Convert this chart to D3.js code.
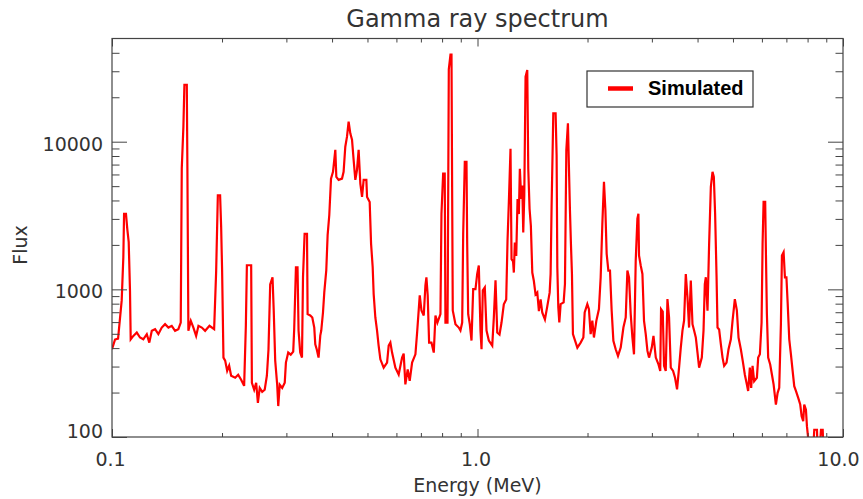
<!DOCTYPE html>
<html>
<head>
<meta charset="utf-8">
<script src="https://cdn.jsdelivr.net/npm/d3@7.9.0/dist/d3.min.js"></script>
<style>
  body { margin: 0; background: #fff; }
  svg { display: block; }
</style>
</head>
<body>
<svg id="chart" width="863" height="499"></svg>
<script>
// spectrum: energy (MeV) and flux
const energy = [
  0.1000, 0.1019, 0.1039, 0.1063, 0.1074, 0.1079, 0.1092, 0.1101, 0.1111, 0.1120,
  0.1125, 0.1144, 0.1169, 0.1193, 0.1218, 0.1245, 0.1265, 0.1285, 0.1312, 0.1339,
  0.1368, 0.1397, 0.1427, 0.1457, 0.1488, 0.1519, 0.1542, 0.1552, 0.1568, 0.1578,
  0.1602, 0.1608, 0.1618, 0.1643, 0.1670, 0.1699, 0.1724, 0.1761, 0.1798, 0.1848,
  0.1903, 0.1927, 0.1948, 0.1976, 0.1989, 0.2001, 0.2018, 0.2040, 0.2066, 0.2092,
  0.2118, 0.2173, 0.2214, 0.2256, 0.2299, 0.2324, 0.2339, 0.2403, 0.2414, 0.2449,
  0.2480, 0.2507, 0.2536, 0.2576, 0.2617, 0.2653, 0.2680, 0.2709, 0.2749, 0.2770,
  0.2796, 0.2831, 0.2850, 0.2877, 0.2922, 0.2969, 0.2991, 0.3035, 0.3083, 0.3132,
  0.3151, 0.3186, 0.3218, 0.3239, 0.3273, 0.3310, 0.3331, 0.3365, 0.3416, 0.3429,
  0.3487, 0.3532, 0.3576, 0.3599, 0.3633, 0.3674, 0.3714, 0.3737, 0.3778, 0.3809,
  0.3857, 0.3890, 0.3931, 0.3974, 0.4024, 0.4083, 0.4109, 0.4169, 0.4259, 0.4302,
  0.4348, 0.4395, 0.4440, 0.4487, 0.4536, 0.4582, 0.4632, 0.4681, 0.4729, 0.4780,
  0.4832, 0.4881, 0.4965, 0.4987, 0.5070, 0.5115, 0.5167, 0.5199, 0.5254, 0.5311,
  0.5364, 0.5423, 0.5537, 0.5657, 0.5715, 0.5776, 0.5838, 0.5961, 0.6086, 0.6218,
  0.6281, 0.6348, 0.6442, 0.6524, 0.6623, 0.6763, 0.6836, 0.6950, 0.7025, 0.7128,
  0.7203, 0.7248, 0.7307, 0.7372, 0.7482, 0.7592, 0.7673, 0.7769, 0.7918, 0.7969,
  0.8054, 0.8135, 0.8171, 0.8278, 0.8293, 0.8346, 0.8435, 0.8489, 0.8526, 0.8557,
  0.8704, 0.8886, 0.8981, 0.9080, 0.9138, 0.9231, 0.9330, 0.9371, 0.9430, 0.9526,
  0.9629, 0.9732, 0.9874, 0.9981, 1.0083, 1.0190, 1.0257, 1.0340, 1.0471, 1.0585,
  1.0740, 1.0973, 1.1084, 1.1202, 1.1324, 1.1488, 1.1634, 1.1803, 1.1983, 1.2082,
  1.2183, 1.2312, 1.2391, 1.2509, 1.2572, 1.2651, 1.2764, 1.2870, 1.2977, 1.3058,
  1.3173, 1.3258, 1.3341, 1.3427, 1.3536, 1.3682, 1.3769, 1.3883, 1.3996, 1.4122,
  1.4263, 1.4416, 1.4573, 1.4723, 1.4882, 1.5042, 1.5293, 1.5524, 1.5753, 1.5849,
  1.5948, 1.6121, 1.6357, 1.6460, 1.6534, 1.6638, 1.6744, 1.6884, 1.7205, 1.7348,
  1.7500, 1.7677, 1.7788, 1.7903, 1.8015, 1.8131, 1.8244, 1.8442, 1.8759, 1.9152,
  1.9482, 1.9644, 1.9975, 2.0178, 2.0396, 2.0613, 2.0823, 2.1142, 2.1490, 2.1727,
  2.1958, 2.2182, 2.2382, 2.2563, 2.2806, 2.3040, 2.3286, 2.3537, 2.3883, 2.4233,
  2.4650, 2.5073, 2.5440, 2.5711, 2.5973, 2.6254, 2.6534, 2.6802, 2.7095, 2.7384,
  2.7560, 2.7663, 2.7963, 2.8263, 2.8550, 2.8860, 2.9171, 2.9470, 2.9977, 3.0300,
  3.0746, 3.1273, 3.1623, 3.1783, 3.2124, 3.2390, 3.2735, 3.3090, 3.3427, 3.3790,
  3.4284, 3.4711, 3.5156, 3.5603, 3.5990, 3.6374, 3.6745, 3.7143, 3.7539, 3.7921,
  3.8334, 3.8743, 3.9138, 3.9563, 3.9985, 4.0393, 4.1088, 4.1534, 4.1871, 4.2141,
  4.2590, 4.3024, 4.3492, 4.3954, 4.4320, 4.4679, 4.5080, 4.5362, 4.5824, 4.6322,
  4.6816, 4.7293, 4.8017, 4.8618, 4.9338, 4.9863, 5.0592, 5.1236, 5.1782, 5.2539,
  5.3211, 5.3889, 5.4576, 5.5017, 5.5610, 5.6072, 5.6565, 5.7143, 5.8124, 5.8608,
  5.9231, 5.9874, 6.0256, 6.0634, 6.1252, 6.1518, 6.1914, 6.2417, 6.3213, 6.3900,
  6.4582, 6.5527, 6.6239, 6.6912, 6.7624, 6.8063, 6.8786, 6.9360, 7.0018, 7.0554,
  7.1273, 7.2033, 7.2809, 7.3552, 7.4337, 7.5421, 7.6383, 7.7057, 7.7837, 7.8339,
  7.9174, 7.9686, 8.0686, 8.3000, 8.3445, 8.4873, 8.5130, 8.6500, 8.7044, 8.8003,
  8.8300, 9.2700
];

const flux = [
  393, 457, 464, 842, 1651, 3252, 3252, 2571, 2088, 985,
  459, 484, 510, 472, 459, 497, 436, 524, 537, 497,
  551, 581, 551, 566, 524, 537, 596, 6580, 12650, 24300,
  24300, 6580, 524, 612, 551, 484, 566, 551, 524, 566,
  537, 1305, 4340, 4340, 2641, 1346, 345, 329, 281, 304,
  260, 252, 264, 244, 222, 569, 1456, 1456, 233, 209,
  233, 170, 215, 202, 209, 260, 391, 1081, 1207, 720,
  329, 226, 162, 226, 215, 233, 319, 373, 361, 379,
  535, 1412, 1412, 526, 373, 345, 1207, 2378, 2378, 679,
  665, 645, 551, 425, 391, 345, 486, 526, 697, 954,
  1346, 2330, 3187, 5627, 6250, 8820, 5780, 5515, 5627, 6250,
  9250, 10820, 13680, 11390, 10320, 7543, 5515, 6450, 8820, 5203,
  4225, 5515, 5515, 4225, 3908, 2033, 1412, 929, 645, 526,
  416, 336, 295, 319, 416, 436, 373, 295, 265, 345,
  367, 227, 287, 240, 319, 363, 510, 910, 720, 665,
  1065, 1207, 910, 436, 436, 373, 665, 596, 679, 3252,
  6085, 6085, 596, 596, 1151, 30900, 38900, 38900, 4114, 720,
  581, 551, 526, 596, 2378, 7310, 7310, 2033, 679, 581,
  450, 1005, 1005, 1271, 1450, 526, 393, 985, 1032, 526,
  450, 416, 645, 1151, 510, 494, 596, 791, 855, 2131,
  3890, 8960, 1600, 1550, 1299, 2078, 1685, 4095, 3236, 6550,
  4095, 5044, 2430, 4310, 27550, 30550, 6550, 3500, 2696, 1299,
  1139, 925, 954, 712, 855, 694, 625, 770, 950, 1271,
  3612, 15580, 15580, 8121, 1412, 754, 596, 794, 816, 1087,
  8780, 13320, 6761, 3446, 2033, 1271, 497, 459, 403, 436,
  472, 697, 794, 735, 497, 615, 472, 612, 735, 1207,
  2781, 5345, 3446, 1738, 1341, 1341, 716, 448, 393, 354,
  403, 551, 645, 1341, 1207, 679, 472, 363, 1567, 3008,
  3252, 1695, 1450, 1271, 612, 497, 383, 345, 403, 484,
  345, 310, 280, 735, 708, 303, 280, 859, 645, 295,
  280, 252, 210, 295, 403, 526, 615, 1271, 882, 551,
  1146, 581, 526, 472, 373, 295, 345, 526, 1087, 1207,
  716, 2033, 4943, 6250, 5780, 3252, 1240, 551, 535, 425,
  345, 303, 319, 393, 459, 612, 859, 720, 472, 393,
  324, 264, 227, 205, 295, 215, 303, 239, 252, 345,
  363, 596, 2033, 3908, 3908, 1833, 679, 345, 310, 265,
  227, 166, 199, 215, 581, 1695, 1786, 1207, 1207, 816,
  459, 363, 280, 221, 205, 184, 166, 138, 128, 166,
  153, 118, 88, 88, 112, 112, 88, 88, 112, 112,
  88, 85
];

const xMajorTicks = [0.1, 1, 10];
const xTickLabels = ['0.1', '1.0', '10.0'];
const xMinorTicks = [0.2, 0.3, 0.4, 0.5, 0.6, 0.7, 0.8, 0.9, 2, 3, 4, 5, 6, 7, 8, 9];
const yMajorTicks = [100, 1000, 10000];
const yTickLabels = ['100', '1000', '10000'];
const yMinorTicks = [200, 300, 400, 500, 600, 700, 800, 900,
  2000, 3000, 4000, 5000, 6000, 7000, 8000, 9000, 20000, 30000, 40000];

const seriesName = 'Simulated';

const plotLeft = 112, plotRight = 843, plotTop = 38.5, plotBottom = 437;
const axisColor = '#444';
const textColor = '#333';
const font = 'DejaVu Sans, Verdana, sans-serif';

const svg = d3.select('#chart');

const x = d3.scaleLog().domain([0.1, 10]).range([plotLeft, plotRight]);
const y = d3.scaleLog().domain([100, 50000]).range([plotBottom, plotTop]);

const points = energy.map((e, i) => ({ e, f: flux[i] }));

svg.append('clipPath')
  .attr('id', 'plot-clip')
  .append('rect')
  .attr('x', plotLeft)
  .attr('y', plotTop)
  .attr('width', plotRight - plotLeft)
  .attr('height', plotBottom - plotTop);

const line = d3.line()
  .x((d) => x(d.e))
  .y((d) => y(Math.max(d.f, 60)));

svg.append('path')
  .datum(points)
  .attr('clip-path', 'url(#plot-clip)')
  .attr('fill', 'none')
  .attr('stroke', '#ff0000')
  .attr('stroke-width', 2.2)
  .attr('stroke-linejoin', 'miter')
  .attr('d', line);

// axes, IDL style: ticks point inward on all four sides
function styleAxis(g) {
  g.select('.domain').remove();
  g.selectAll('line').attr('stroke', axisColor).attr('stroke-width', 1);
  g.selectAll('text')
    .attr('fill', textColor)
    .attr('font-family', font)
    .attr('font-size', 19);
}

svg.append('g')
  .attr('transform', `translate(0,${plotBottom})`)
  .call(d3.axisBottom(x).tickValues(xMajorTicks).tickSize(-8).tickPadding(16)
    .tickFormat((d, i) => xTickLabels[i]))
  .call(styleAxis)
  .call((g) => g.selectAll('text').attr('dx', (d) => (d === 10 ? -5 : -2)));

svg.append('g')
  .attr('transform', `translate(0,${plotBottom})`)
  .call(d3.axisBottom(x).tickValues(xMinorTicks).tickSize(-4).tickFormat(''))
  .call(styleAxis);

svg.append('g')
  .attr('transform', `translate(0,${plotTop})`)
  .call(d3.axisTop(x).tickValues(xMajorTicks).tickSize(-8).tickFormat(''))
  .call(styleAxis);

svg.append('g')
  .attr('transform', `translate(0,${plotTop})`)
  .call(d3.axisTop(x).tickValues(xMinorTicks).tickSize(-4).tickFormat(''))
  .call(styleAxis);

svg.append('g')
  .attr('transform', `translate(${plotLeft},0)`)
  .call(d3.axisLeft(y).tickValues(yMajorTicks).tickSize(-15).tickPadding(9)
    .tickFormat((d, i) => yTickLabels[i]))
  .call(styleAxis)
  .call((g) => g.selectAll('text')
    .attr('dy', (d) => (d === 100 ? '0' : '0.45em')));

svg.append('g')
  .attr('transform', `translate(${plotLeft},0)`)
  .call(d3.axisLeft(y).tickValues(yMinorTicks).tickSize(-7.5).tickFormat(''))
  .call(styleAxis);

svg.append('g')
  .attr('transform', `translate(${plotRight},0)`)
  .call(d3.axisRight(y).tickValues(yMajorTicks).tickSize(-15).tickFormat(''))
  .call(styleAxis);

svg.append('g')
  .attr('transform', `translate(${plotRight},0)`)
  .call(d3.axisRight(y).tickValues(yMinorTicks).tickSize(-7.5).tickFormat(''))
  .call(styleAxis);

svg.append('rect')
  .attr('x', plotLeft)
  .attr('y', plotTop)
  .attr('width', plotRight - plotLeft)
  .attr('height', plotBottom - plotTop)
  .attr('fill', 'none')
  .attr('stroke', axisColor)
  .attr('stroke-width', 1.2);

// titles
svg.append('text')
  .attr('x', (plotLeft + plotRight) / 2)
  .attr('y', 27)
  .attr('text-anchor', 'middle')
  .attr('font-family', font)
  .attr('font-size', 24)
  .attr('fill', textColor)
  .text('Gamma ray spectrum');

svg.append('text')
  .attr('x', (plotLeft + plotRight) / 2)
  .attr('y', 492)
  .attr('text-anchor', 'middle')
  .attr('font-family', font)
  .attr('font-size', 19)
  .attr('fill', textColor)
  .text('Energy (MeV)');

svg.append('text')
  .attr('transform', 'translate(27,245) rotate(-90)')
  .attr('text-anchor', 'middle')
  .attr('font-family', font)
  .attr('font-size', 19)
  .attr('fill', textColor)
  .text('Flux');

// legend
const legend = svg.append('g').attr('transform', 'translate(587,71)');
legend.append('rect')
  .attr('width', 166)
  .attr('height', 36)
  .attr('fill', '#fff')
  .attr('stroke', '#333')
  .attr('stroke-width', 1.2);
legend.append('line')
  .attr('x1', 21).attr('x2', 46)
  .attr('y1', 17.5).attr('y2', 17.5)
  .attr('stroke', '#ff0000')
  .attr('stroke-width', 4.5);
legend.append('text')
  .attr('x', 61)
  .attr('y', 24)
  .attr('font-family', 'Liberation Sans, Arial, sans-serif')
  .attr('font-weight', 'bold')
  .attr('font-size', 20)
  .attr('fill', '#000')
  .text(seriesName);
</script>
</body>
</html>
